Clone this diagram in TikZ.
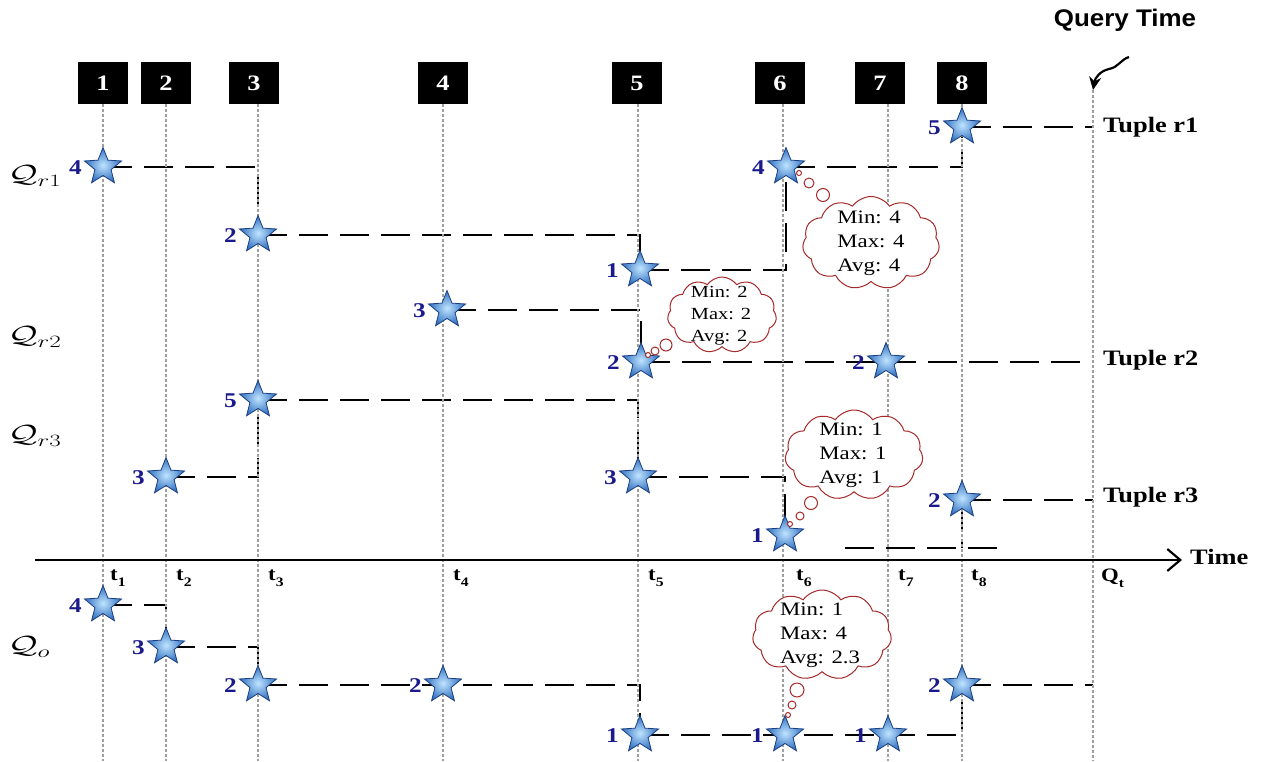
\documentclass[tikz,border=0pt]{standalone}
\usepackage{fontspec}
\usepackage{graphicx}
\setmainfont{Liberation Serif}
\newfontfamily\stserif[FakeStretch=1.2]{Liberation Serif}
\newfontfamily\stsans[FakeStretch=1.08]{Liberation Sans}
\usetikzlibrary{shapes.geometric,shapes.symbols,arrows.meta,backgrounds}
\definecolor{numblue}{HTML}{1A1A8C}
\definecolor{starin}{HTML}{BFE4FF}
\definecolor{starout}{HTML}{2F6FC0}
\definecolor{starline}{HTML}{1C3F80}
\definecolor{cloudred}{HTML}{A52A2A}
\newcommand\qstar[4]{\node[sstar] (#1) at (#2,#3) {};
  \node[num, anchor=east] (#1n) at ([xshift=-21pt,yshift=-1pt]#1.center) {#4};}
\newcommand\tsub[2]{#1\raisebox{-0.3em}{\fontsize{13}{13}\selectfont #2}}
\tikzset{
  gridline/.style={draw=gray!75, line width=1.2pt, dash pattern=on 3pt off 2pt},
  dl/.style={draw=black, line width=2.8pt, dash pattern=on 29pt off 12pt},
  axisline/.style={draw=black, line width=2pt, -{Straight Barb[length=13pt,width=22pt,line width=2.2pt]}},
  qbox/.style={fill=black, minimum width=50pt, minimum height=42pt, inner sep=0pt, text=white, font=\stserif\fontsize{22}{22}\selectfont\bfseries},
  sstar/.style={star, star points=5, star point ratio=2.3, minimum size=39pt, inner sep=0pt, shading=radial, inner color=starin, outer color=starout, draw=starline, line width=0.8pt},
  num/.style={text=numblue, font=\stserif\fontsize{21}{21}\selectfont\bfseries, inner sep=0pt},
  cloudshape/.style={cloud, cloud puffs=11, cloud puff arc=110, cloud ignores aspect, draw=cloudred, line width=1pt, fill=white, inner sep=0pt},
  cloudtxt/.style={font=\stserif\fontsize{19}{24}\selectfont, align=left, inner sep=0pt},
  bub/.style={circle, draw=cloudred, fill=white, line width=1pt, inner sep=0pt},
  tup/.style={font=\stserif\fontsize{22}{22}\selectfont\bfseries, anchor=west, inner sep=0pt},
  ticklab/.style={font=\stserif\fontsize{19}{19}\selectfont\bfseries, anchor=west, inner sep=0pt},
  qlab/.style={font=\fontsize{27}{27}\selectfont, anchor=west, inner sep=0pt},
}
\begin{document}
\begin{tikzpicture}[x=1pt,y=-1pt]
\useasboundingbox (0,0) rectangle (1267,761);
% boxes
\node[qbox] (b1) at (103,83) {1};
\node[qbox] (b2) at (166,83) {2};
\node[qbox] (b3) at (254,83) {3};
\node[qbox] (b4) at (443,83) {4};
\node[qbox] (b5) at (637,83) {5};
\node[qbox] (b6) at (780,83) {6};
\node[qbox] (b7) at (880,83) {7};
\node[qbox] (b8) at (962,83) {8};
% grid coordinates
\coordinate (g1) at (103,761);
\coordinate (g2) at (166,761);
\coordinate (g3) at (258,761);
\coordinate (g4) at (443,761);
\coordinate (g5) at (638,761);
\coordinate (g6) at (783,761);
\coordinate (g7) at (888,761);
\coordinate (g8) at (962,761);
\coordinate (g9) at (1093,761);
\coordinate (qtop) at (1093,90);
\draw[gridline] (b1.south -| g1) -- (g1);
\draw[gridline] (b2.south -| g2) -- (g2);
\draw[gridline] (b3.south -| g3) -- (g3);
\draw[gridline] (b4.south -| g4) -- (g4);
\draw[gridline] (b5.south -| g5) -- (g5);
\draw[gridline] (b6.south -| g6) -- (g6);
\draw[gridline] (b7.south -| g7) -- (g7);
\draw[gridline] (b8.south -| g8) -- (g8);
\draw[gridline] (qtop) -- (g9);
% time axis
\coordinate (ax0) at (35,560);
\coordinate (ax1) at (1182,560);
\draw[axisline] (ax0) -- (ax1);
\node[tup] (time) at (1190,557) {Time};
% tick labels
\node[ticklab] (tl1) at (110,578) {\tsub{t}{1}};
\node[ticklab] (tl2) at (176,578) {\tsub{t}{2}};
\node[ticklab] (tl3) at (268,578) {\tsub{t}{3}};
\node[ticklab] (tl4) at (453,578) {\tsub{t}{4}};
\node[ticklab] (tl5) at (648,578) {\tsub{t}{5}};
\node[ticklab] (tl6) at (796,578) {\tsub{t}{6}};
\node[ticklab] (tl7) at (898,578) {\tsub{t}{7}};
\node[ticklab] (tl8) at (971,578) {\tsub{t}{8}};
\node[ticklab] (tlq) at (1101,578) {\tsub{Q}{t}};
% row labels
\node[qlab] (qr1) at (8,176) {\scalebox{1.45}[1]{$\mathcal{Q}_{r1}$}};
\node[qlab] (qr2) at (8,337) {\scalebox{1.45}[1]{$\mathcal{Q}_{r2}$}};
\node[qlab] (qr3) at (8,436) {\scalebox{1.45}[1]{$\mathcal{Q}_{r3}$}};
\node[qlab] (qo) at (8,647) {\scalebox{1.45}[1]{$\mathcal{Q}_{o}$}};
\node[tup] (tr1) at (1103,127) {Tuple r1};
\node[tup] (tr2) at (1103,360) {Tuple r2};
\node[tup] (tr3) at (1103,497) {Tuple r3};
% query time
\node[font=\stsans\fontsize{24}{24}\selectfont\bfseries, inner sep=0pt] (qt) at (1125,20) {Query Time};
\coordinate (qa) at (1129,57);
\draw[line width=2.2pt, -{Stealth[length=13pt,width=12pt]}] (qa) .. controls (1120,60) and (1119,67) .. (1109,69) .. controls (1100,71) and (1095,78) .. (qtop);
% stars
\qstar{s1}{103}{167}{4}
\qstar{s2}{258}{235}{2}
\qstar{s3}{640}{270}{1}
\qstar{s4}{786}{167}{4}
\qstar{s5}{962}{127}{5}
\qstar{s6}{447}{310}{3}
\qstar{s7}{641}{362}{2}
\qstar{s8}{886}{362}{2}
\qstar{s9}{166}{477}{3}
\qstar{s10}{258}{400}{5}
\qstar{s11}{638}{477}{3}
\qstar{s12}{785}{535}{1}
\qstar{s13}{962}{500}{2}
\qstar{o1}{103}{605}{4}
\qstar{o2}{166}{647}{3}
\qstar{o3}{258}{685}{2}
\qstar{o4}{443}{685}{2}
\qstar{o5}{640}{735}{1}
\qstar{o6}{785}{735}{1}
\qstar{o7}{888}{735}{1}
\qstar{o8}{962}{685}{2}
\coordinate (e1) at (1093,127);
\coordinate (e2) at (1093,362);
\coordinate (e3) at (1093,500);
\coordinate (e4) at (1093,685);
\coordinate (f0) at (845,548);
\coordinate (f1) at (1000,548);
\begin{pgfonlayer}{background}
\draw[dl] (s1.center) -| (s2.center);
\draw[dl] (s2.center) -| (s3.center);
\draw[dl] (s3.center) -| (s4.center);
\draw[dl] (s4.center) -| (s5.center);
\draw[dl] (s5.center) -- (e1);
\draw[dl] (s6.center) -| (s7.center);
\draw[dl] (s7.center) -- (e2);
\draw[dl] (s9.center) -| (s10.center);
\draw[dl] (s10.center) -| (s11.center);
\draw[dl] (s11.center) -| (s12.center);
\draw[dl] (f0) -- (f1);
\draw[dl] (s13.center) -- (s13.center |- f0);
\draw[dl] (s13.center) -- (e3);
\draw[dl] (o1.center) -| (o2.center);
\draw[dl] (o2.center) -| (o3.center);
\draw[dl] (o3.center) -| (o5.center);
\draw[dl] (o5.center) -| (o8.center);
\draw[dl] (o8.center) -- (e4);
\end{pgfonlayer}
% clouds
\node[bub, minimum size=5pt] (c1a) at (799,173) {};
\node[bub, minimum size=10pt] (c1b) at (809,183) {};
\node[bub, minimum size=13pt] (c1c) at (823,195) {};
\node[cloudshape, minimum width=137pt, minimum height=93pt] (c1) at (871,243) {};
\node[cloudtxt] (c1t) at (871,243) {Min: 4\\Max: 4\\Avg: 4};
\node[bub, minimum size=5pt] (c2a) at (648,355) {};
\node[bub, minimum size=8pt] (c2b) at (655,351) {};
\node[bub, minimum size=12pt] (c2c) at (666,345) {};
\node[cloudshape, minimum width=109pt, minimum height=76pt] (c2) at (722,315) {};
\node[cloudtxt, font=\stserif\fontsize{17}{22}\selectfont] (c2t) at (721,316) {Min: 2\\Max: 2\\Avg: 2};
\node[bub, minimum size=5pt] (c3a) at (790,524) {};
\node[bub, minimum size=8pt] (c3b) at (800,516) {};
\node[bub, minimum size=13pt] (c3c) at (811,503) {};
\node[cloudshape, minimum width=138pt, minimum height=90pt] (c3) at (854,455) {};
\node[cloudtxt] (c3t) at (853,455) {Min: 1\\Max: 1\\Avg: 1};
\node[bub, minimum size=5pt] (c4a) at (788,715) {};
\node[bub, minimum size=8pt] (c4b) at (792,705) {};
\node[bub, minimum size=14pt] (c4c) at (797,690) {};
\node[cloudshape, minimum width=139pt, minimum height=90pt] (c4) at (822,635) {};
\node[cloudtxt] (c4t) at (820,635) {Min: 1\\Max: 4\\Avg: 2.3};
\end{tikzpicture}
\end{document}
